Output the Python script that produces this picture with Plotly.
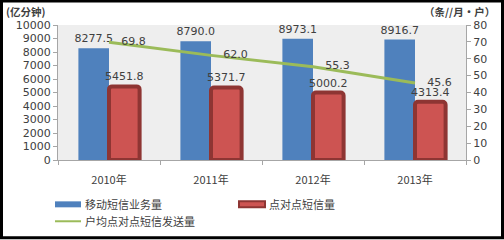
import plotly.graph_objects as go

categories = ["2010年", "2011年", "2012年", "2013年"]
sms_total = [8277.5, 8790.0, 8973.1, 8916.7]
p2p_sms = [5451.8, 5371.7, 5000.2, 4313.4]
per_user = [69.8, 62.0, 55.3, 45.6]
legend_names = ["移动短信业务量", "点对点短信量", "户均点对点短信发送量"]

num_font = "DejaVu Sans"
cjk_font = "Noto Sans CJK SC"
txt_col = "#404040"
blue, red, red_edge, green = "#4F81BD", "#CD5452", "#8E3533", "#9BBB59"

fig = go.Figure()
fig.add_trace(go.Bar(
    x=categories, y=sms_total, name=legend_names[0],
    marker=dict(color=blue, line=dict(width=0)),
    text=[f"{v:.1f}" for v in sms_total], textposition="outside",
    textfont=dict(family=num_font, size=11, color=txt_col),
    cliponaxis=False, yaxis="y",
))
fig.add_trace(go.Bar(
    x=categories, y=p2p_sms, name=legend_names[1],
    marker=dict(color=red, line=dict(width=4, color=red_edge), cornerradius=3),
    text=[f"{v:.1f}" for v in p2p_sms], textposition="outside",
    textfont=dict(family=num_font, size=11, color=txt_col),
    cliponaxis=False, yaxis="y",
))
fig.add_trace(go.Scatter(
    x=categories, y=per_user, name=legend_names[2],
    mode="lines+markers+text",
    line=dict(color=green, width=3),
    marker=dict(size=18, color="rgba(0,0,0,0)"),
    text=[f"{v:.1f}" for v in per_user], textposition="middle right",
    textfont=dict(family=num_font, size=11, color=txt_col),
    cliponaxis=False, yaxis="y2",
))

L, R, T, B = 58, 38, 25, 79.5
W, H = 504, 240
pw, ph = W - L - R, H - T - B


def px(x):
    return (x - L) / pw


def py(y):
    return (H - B - y) / ph


shapes = [
    dict(type="rect", xref="paper", yref="paper",
         x0=px(1.5), x1=px(502.5), y0=py(238.5), y1=py(1),
         line=dict(color="black", width=3), fillcolor="rgba(0,0,0,0)", layer="above"),
    # legend swatches
    dict(type="rect", xref="paper", yref="paper",
         x0=px(55), x1=px(81), y0=py(208), y1=py(202),
         line=dict(width=0), fillcolor=blue),
    dict(type="rect", xref="paper", yref="paper",
         x0=px(239), x1=px(265), y0=py(208), y1=py(202),
         line=dict(width=2, color=red_edge), fillcolor=red),
    dict(type="line", xref="paper", yref="paper",
         x0=px(55), x1=px(81), y0=py(222), y1=py(222),
         line=dict(width=2, color=green)),
]

annotations = [
    dict(text="<b>(亿分钟)</b>", xref="paper", yref="paper",
         x=px(4), y=py(11), xanchor="left", yanchor="middle",
         showarrow=False, font=dict(family=cjk_font, size=10.5, color=txt_col)),
    dict(text="<b>（条//月·户）</b>", xref="paper", yref="paper",
         x=px(497), y=py(11), xanchor="right", yanchor="middle",
         showarrow=False, font=dict(family=cjk_font, size=10.5, color=txt_col)),
]
for name, lx, ly in [(legend_names[0], 83, 205), (legend_names[1], 267, 205), (legend_names[2], 83, 222)]:
    annotations.append(dict(text=name, xref="paper", yref="paper", x=px(lx), y=py(ly),
                            xanchor="left", yanchor="middle", showarrow=False,
                            font=dict(family=cjk_font, size=11, color=txt_col)))

fig.update_layout(
    width=W, height=H,
    margin=dict(l=L, r=R, t=T, b=B, pad=0),
    paper_bgcolor="white", plot_bgcolor="#EEEEEE",
    barmode="group", bargap=0.4, bargroupgap=0.0,
    uniformtext=dict(mode=False),
    font=dict(family=num_font, size=11, color=txt_col),
    showlegend=False,
    xaxis=dict(
        showline=True, linecolor="#A6A6A6", linewidth=1,
        ticks="outside", ticklen=4, tickcolor="#A6A6A6",
        tickfont=dict(family=cjk_font, size=11, color=txt_col),
        ticklabelstandoff=10, showgrid=False, tickson="boundaries",
        automargin=False,
    ),
    yaxis=dict(
        range=[0, 10000], dtick=1000, tickformat="d", showgrid=False,
        showline=True, linecolor="#A6A6A6", linewidth=1,
        ticks="outside", ticklen=4, tickcolor="#A6A6A6",
        tickfont=dict(family=num_font, size=11, color=txt_col),
        zeroline=False, automargin=False,
    ),
    yaxis2=dict(
        range=[0, 80], dtick=10, overlaying="y", side="right", showgrid=False,
        showline=True, linecolor="#A6A6A6", linewidth=1,
        ticks="outside", ticklen=4, tickcolor="#A6A6A6",
        tickfont=dict(family=num_font, size=11, color=txt_col),
        zeroline=False, automargin=False,
    ),
    annotations=annotations,
    shapes=shapes,
)
for t in fig.data[:2]:
    t.update(constraintext="none")

fig.write_html("out.html")
